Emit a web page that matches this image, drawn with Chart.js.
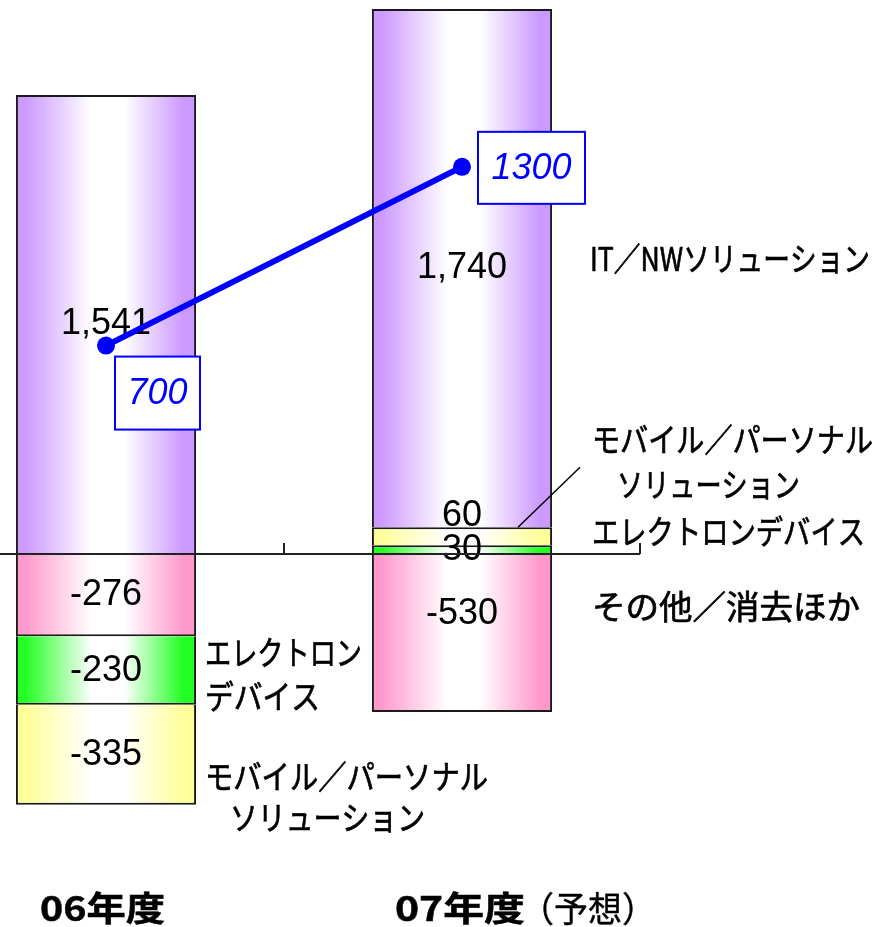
<!DOCTYPE html>
<html>
<head>
<meta charset="utf-8">
<script src="https://cdn.jsdelivr.net/npm/chart.js@4/dist/chart.umd.min.js"></script>
<style>
  html, body { margin: 0; padding: 0; background: #fff; overflow: hidden; }
  #wrap { position: absolute; left: -100px; top: 0; width: 980px; height: 927px; }
</style>
</head>
<body>
<div id="wrap"><canvas id="chart" width="980" height="927"></canvas></div>
<script>
// ─── Data ───────────────────────────────────────────────────

const years = ['06年度', '07年度'];
const yearNotes = ['', '（予想）'];

const otherVals = [-276, -530];   // その他/消去ほか
const deviceVals = [-230, 30];    // エレクトロンデバイス
const mobileVals = [-335, 60];    // モバイル/パーソナルソリューション
const itnwVals = [1541, 1740];    // IT/NWソリューション

const profitLine = [700, 1300];

// ─── Helpers ────────────────────────────────────────────────

const OFFSET_X = 100;             // canvas sits 100px left of the page
const px = x => x + OFFSET_X;

const NUM_FONT = '"Liberation Sans", Arial, sans-serif';
const JP_FONT = '"Noto Sans CJK JP", sans-serif';

function barGradient(edge) {
  return ctx => {
    const chart = ctx.chart;
    const xs = chart.scales.x;
    if (!chart.chartArea || !xs) return edge;
    const half = (xs.width / years.length) * 0.253;
    const c = xs.getPixelForValue(ctx.dataIndex);
    const g = chart.ctx.createLinearGradient(c - half, 0, c + half, 0);
    g.addColorStop(0, edge);
    g.addColorStop(0.05, edge);
    g.addColorStop(0.42, '#ffffff');
    g.addColorStop(0.6, '#ffffff');
    g.addColorStop(0.93, edge);
    g.addColorStop(1, edge);
    return g;
  };
}

function barSet(label, data, edge) {
  return {
    type: 'bar',
    label,
    data,
    order: 1,
    stack: 'bars',
    backgroundColor: barGradient(edge),
    borderColor: '#1a1a1a',
    borderWidth: 2,
    borderSkipped: 'start',
    categoryPercentage: 1,
    barPercentage: 0.506,
  };
}

// draw text squeezed/stretched to a given width, slightly emboldened
function fitText(ctx, text, x, y, width, weight = 0.7) {
  const w = ctx.measureText(text).width;
  ctx.save();
  ctx.translate(x, y);
  ctx.scale(width / w, 1);
  ctx.fillText(text, 0, 0);
  if (weight > 0) {
    ctx.lineWidth = weight;
    ctx.strokeStyle = ctx.fillStyle;
    ctx.strokeText(text, 0, 0);
  }
  ctx.restore();
}

// ─── Plugins ────────────────────────────────────────────────

// value labels inside the stacked segments (drawn under the line)
const labelOffsets = { '1-2': -20, '1-0': -19 };

const segmentLabels = {
  id: 'segmentLabels',
  beforeDatasetDraw(chart, args) {
    if (args.meta.type !== 'line') return;
    const ctx = chart.ctx;
    ctx.save();
    ctx.fillStyle = '#000';
    ctx.font = `36px ${NUM_FONT}`;
    ctx.textAlign = 'center';
    ctx.textBaseline = 'middle';
    chart.data.datasets.forEach((ds, di) => {
      if (ds.type !== 'bar') return;
      const meta = chart.getDatasetMeta(di);
      meta.data.forEach((bar, i) => {
        const off = labelOffsets[`${i}-${di - 1}`] || 0;
        const y = (bar.y + bar.base) / 2 + off;
        ctx.fillText(ds.data[i].toLocaleString('en-US'), bar.x, y);
      });
    });
    ctx.restore();
  },
};

// zero baseline, category ticks, boxed line values and annotations
const annotations = {
  id: 'annotations',
  afterDatasetsDraw(chart) {
    const ctx = chart.ctx;
    const xs = chart.scales.x;
    const ys = chart.scales.y;
    const zero = ys.getPixelForValue(0);
    const cat = xs.width / years.length;

    ctx.save();
    // baseline with upward ticks at category boundaries
    ctx.strokeStyle = '#222';
    ctx.lineWidth = 2;
    ctx.beginPath();
    ctx.moveTo(xs.left, zero);
    ctx.lineTo(xs.right, zero);
    for (let i = 1; i <= years.length; i++) {
      const bx = xs.left + cat * i;
      ctx.moveTo(bx, zero);
      ctx.lineTo(bx, zero - 11);
    }
    ctx.stroke();

    // boxed labels for the line points
    const lineMeta = chart.getDatasetMeta(0);
    const boxes = [
      { dx: 9, dy: 11, w: 85, h: 73 },
      { dx: 16, dy: -35, w: 107, h: 72 },
    ];
    lineMeta.data.forEach((pt, i) => {
      const b = boxes[i];
      const bx = pt.x + b.dx, by = pt.y + b.dy;
      ctx.fillStyle = '#fff';
      ctx.fillRect(bx, by, b.w, b.h);
      ctx.strokeStyle = '#0000ff';
      ctx.lineWidth = 2;
      ctx.strokeRect(bx, by, b.w, b.h);
      ctx.fillStyle = '#0000ff';
      ctx.font = `italic 36px ${NUM_FONT}`;
      ctx.textAlign = 'center';
      ctx.textBaseline = 'middle';
      ctx.fillText(String(profitLine[i]), bx + b.w / 2, by + b.h / 2 + 1);
    });

    // leader line to the thin 07 segment
    const lx = xs.getPixelForValue(1) + 56;
    const ly = ys.getPixelForValue(deviceVals[1] + mobileVals[1]);
    ctx.strokeStyle = '#000';
    ctx.lineWidth = 1.5;
    ctx.beginPath();
    ctx.moveTo(lx, ly);
    ctx.lineTo(lx + 62, ly - 60);
    ctx.stroke();

    // segment names
    ctx.fillStyle = '#000';
    ctx.textAlign = 'left';
    ctx.textBaseline = 'middle';
    ctx.font = `33px ${JP_FONT}`;
    const names = [
      ['IT／NWソリューション', 590, 258, 280],
      ['モバイル／パーソナル', 592, 439, 281],
      ['ソリューション', 617, 484, 183],
      ['エレクトロンデバイス', 592, 531, 273],
      ['その他／消去ほか', 592, 606, 268],
      ['エレクトロン', 205, 652, 157],
      ['デバイス', 205, 696, 115],
      ['モバイル／パーソナル', 205, 776, 283],
      ['ソリューション', 230, 817, 195],
    ];
    names.forEach(([t, x, y, w]) => fitText(ctx, t, px(x), y, w));

    // category labels
    ctx.font = `bold 34px ${JP_FONT}`;
    fitText(ctx, years[0], px(40), 908, 125, 0.5);
    fitText(ctx, years[1], px(395), 908, 130, 0.5);
    ctx.font = `35px ${JP_FONT}`;
    fitText(ctx, yearNotes[1], px(520), 909, 136, 0.4);
    ctx.restore();
  },
};

// ─── Chart ──────────────────────────────────────────────────

new Chart(document.getElementById('chart'), {
  type: 'bar',
  data: {
    labels: years,
    datasets: [
      {
        type: 'line',
        label: '営業利益',
        data: profitLine,
        order: 0,
        stack: 'line',
        borderColor: '#0000ff',
        backgroundColor: '#0000ff',
        borderWidth: 6,
        pointRadius: 9,
        pointBackgroundColor: '#0000ff',
        pointBorderWidth: 0,
        fill: false,
      },
      barSet('その他/消去ほか', otherVals, '#ff99cc'),
      barSet('エレクトロンデバイス', deviceVals, '#22ff22'),
      barSet('モバイル/パーソナルソリューション', mobileVals, '#ffff99'),
      barSet('IT/NWソリューション', itnwVals, '#cc99ff'),
    ],
  },
  options: {
    responsive: false,
    animation: false,
    layout: {
      autoPadding: false,
      padding: { left: 28, right: 240, top: 3, bottom: 75 },
    },
    plugins: {
      legend: { display: false },
      tooltip: { enabled: false },
    },
    scales: {
      x: { display: false, stacked: true, offset: true },
      y: { display: false, stacked: true, min: -1000, max: 1850 },
    },
  },
  plugins: [segmentLabels, annotations],
});
</script>
</body>
</html>
